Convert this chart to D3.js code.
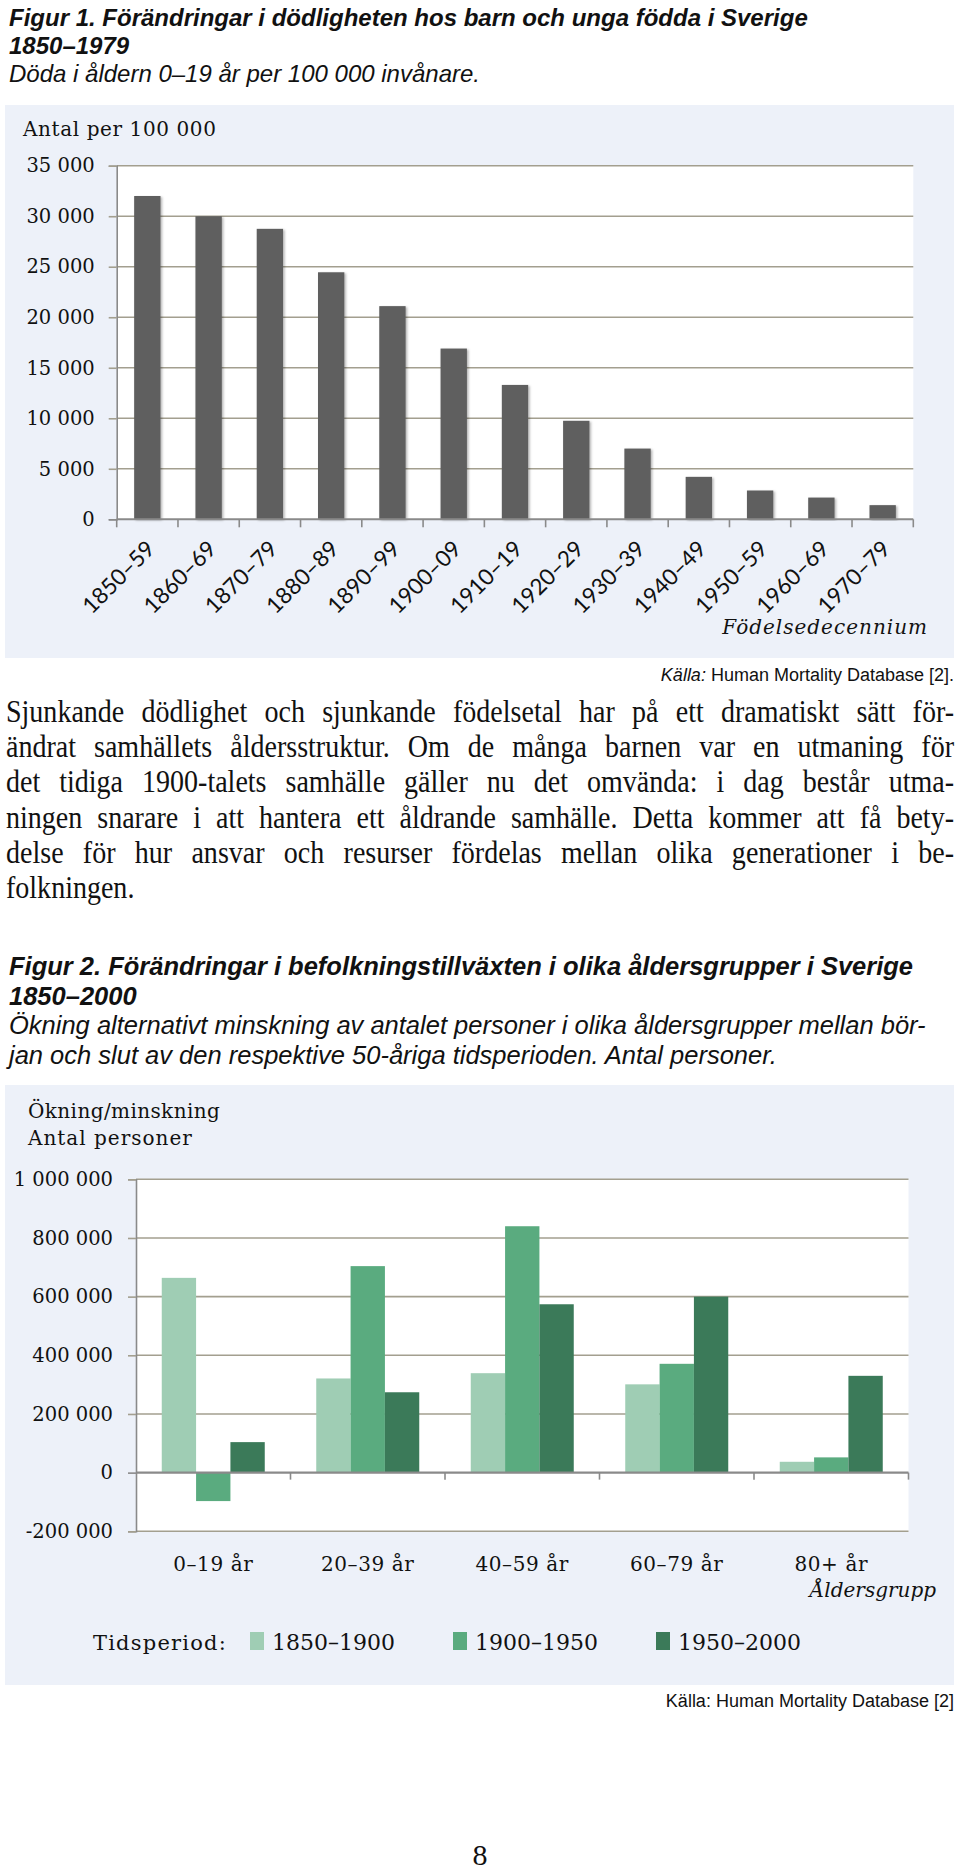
<!DOCTYPE html>
<html>
<head>
<meta charset="utf-8">
<script src="https://cdn.jsdelivr.net/npm/d3@7"></script>
<style>
  body { margin: 0; background: #fff; }
  #page { position: relative; width: 960px; height: 1869px; overflow: hidden; }
  #page svg { position: absolute; left: 0; top: 0; }
</style>
</head>
<body>
<div id="page">
  <svg id="chart" width="960" height="1869"></svg>
</div>
<script>
// figur 1 - deaths age 0-19 per 100 000, by birth decade
var decades = ['1850–59','1860–69','1870–79','1880–89','1890–99','1900–09','1910–19',
               '1920–29','1930–39','1940–49','1950–59','1960–69','1970–79'];
var deaths = [32000, 30000, 28750, 24450, 21100, 16900, 13300, 9750, 7000, 4200, 2850, 2150, 1400];
var deathTicks = [0, 5000, 10000, 15000, 20000, 25000, 30000, 35000];

// figur 2 - change in number of persons per age group
var ageGroups = ['0–19 år', '20–39 år', '40–59 år', '60–79 år', '80+ år'];
var periods = ['1850–1900', '1900–1950', '1950–2000'];
var change1850 = [664000, 321000, 339000, 301000, 37000];
var change1900 = [-97000, 704000, 840000, 371000, 52000];
var change1950 = [104000, 274000, 574000, 600000, 330000];
var changeTicks = [-200000, 0, 200000, 400000, 600000, 800000, 1000000];

var paraLines = [
  'Sjunkande dödlighet och sjunkande födelsetal har på ett dramatiskt sätt för-',
  'ändrat samhällets åldersstruktur. Om de många barnen var en utmaning för',
  'det tidiga 1900-talets samhälle gäller nu det omvända: i dag består utma-',
  'ningen snarare i att hantera ett åldrande samhälle. Detta kommer att få bety-',
  'delse för hur ansvar och resurser fördelas mellan olika generationer i be-',
  'folkningen.'
];

var fmt = d3.formatLocale({decimal: ',', thousands: ' ', grouping: [3], currency: ['', ''], minus: '-'}).format(',d');

var serif = '"DejaVu Serif", serif';
var sans = '"Liberation Sans", Arial, sans-serif';
var gridColor = '#a39f8f';
var axisColor = '#8a8a8a';

var svg = d3.select('#chart');

svg.append('defs').append('filter')
    .attr('id', 'shadow').attr('x', '-20%').attr('y', '-5%').attr('width', '140%').attr('height', '110%')
  .append('feDropShadow')
    .attr('dx', 1.5).attr('dy', 1).attr('stdDeviation', 1.2)
    .attr('flood-color', '#000').attr('flood-opacity', 0.3);

// titles
function title(lines, y0, step, size) {
  lines.forEach(function(l, i) {
    svg.append('text')
        .attr('x', 9).attr('y', y0 + i * step)
        .style('font-family', sans).style('font-size', size + 'px')
        .style('font-style', 'italic').style('font-weight', l.bold ? 'bold' : 'normal')
        .style('fill', '#111')
        .text(l.text);
  });
}
title([
  {text: 'Figur 1. Förändringar i dödligheten hos barn och unga födda i Sverige', bold: true},
  {text: '1850–1979', bold: true},
  {text: 'Döda i åldern 0–19 år per 100 000 invånare.', bold: false}
], 26, 28, 24);

title([
  {text: 'Figur 2. Förändringar i befolkningstillväxten i olika åldersgrupper i Sverige', bold: true},
  {text: '1850–2000', bold: true},
  {text: 'Ökning alternativt minskning av antalet personer i olika åldersgrupper mellan bör-', bold: false},
  {text: 'jan och slut av den respektive 50-åriga tidsperioden. Antal personer.', bold: false}
], 975, 29.7, 25.5);

// ---------- chart 1 ----------
var g1 = svg.append('g');
var left1 = 116.7, right1 = 913.3, top1 = 165.7, bottom1 = 519.3;

g1.append('rect').attr('x', 5).attr('y', 105).attr('width', 949).attr('height', 553).attr('fill', '#edf1f9');
g1.append('rect').attr('x', left1).attr('y', top1).attr('width', right1 - left1).attr('height', bottom1 - top1).attr('fill', '#fff');

var x1 = d3.scaleBand().domain(decades).range([left1, right1]);
var y1 = d3.scaleLinear().domain([0, 35000]).range([bottom1, top1]);

g1.selectAll('.grid').data(deathTicks.filter(function(d) { return d > 0; }))
  .enter().append('line')
    .attr('x1', left1).attr('x2', right1)
    .attr('y1', function(d) { return y1(d); }).attr('y2', function(d) { return y1(d); })
    .attr('stroke', gridColor).attr('stroke-width', 1.6);

var yAxis1 = d3.axisLeft(y1).tickValues(deathTicks).tickSize(8).tickPadding(14).tickFormat(fmt);
var ya1 = g1.append('g').attr('transform', 'translate(' + left1 + ',0)').call(yAxis1);
ya1.select('.domain').attr('stroke', axisColor).attr('stroke-width', 1.6);
ya1.selectAll('.tick line').attr('stroke', function(d) { return d === 0 ? axisColor : gridColor; }).attr('stroke-width', 1.6);
ya1.selectAll('.tick text').style('font-family', serif).style('font-size', '19.5px').style('fill', '#111');

var bw1 = x1.bandwidth() * 0.43;
g1.selectAll('.bar').data(deaths)
  .enter().append('rect')
    .attr('x', function(d, i) { return x1(decades[i]) + (x1.bandwidth() - bw1) / 2; })
    .attr('y', function(d) { return y1(d); })
    .attr('width', bw1)
    .attr('height', function(d) { return y1(0) - y1(d); })
    .attr('fill', '#5e5e5e')
    .attr('filter', 'url(#shadow)');

// x axis: line + ticks at band edges
g1.append('line').attr('x1', left1).attr('x2', right1).attr('y1', y1(0)).attr('y2', y1(0))
    .attr('stroke', axisColor).attr('stroke-width', 2);
var edges1 = decades.map(function(d) { return x1(d); }).concat([right1]);
g1.selectAll('.xtick').data(edges1)
  .enter().append('line')
    .attr('x1', function(d) { return d; }).attr('x2', function(d) { return d; })
    .attr('y1', y1(0)).attr('y2', y1(0) + 8)
    .attr('stroke', axisColor).attr('stroke-width', 1.6);

g1.selectAll('.xlab').data(decades)
  .enter().append('text')
    .attr('transform', function(d) {
      return 'translate(' + (x1(d) + x1.bandwidth() / 2 + 9) + ',' + (y1(0) + 31) + ') rotate(-45)';
    })
    .attr('text-anchor', 'end')
    .style('font-family', 'Lato, "Open Sans", sans-serif').style('font-size', '22.5px').style('fill', '#111')
    .text(function(d) { return d; });

g1.append('text').attr('x', 23).attr('y', 136)
    .style('font-family', serif).style('font-size', '20px').style('fill', '#111')
    .style('letter-spacing', '0.6px')
    .text('Antal per 100 000');

g1.append('text').attr('x', 928).attr('y', 634).attr('text-anchor', 'end')
    .style('font-family', serif).style('font-size', '20px').style('font-style', 'italic').style('fill', '#111')
    .style('letter-spacing', '1px')
    .text('Födelsedecennium');

var src1 = g1.append('text').attr('x', 954).attr('y', 681).attr('text-anchor', 'end')
    .style('font-family', sans).style('font-size', '18px').style('fill', '#111');
src1.append('tspan').style('font-style', 'italic').text('Källa:');
src1.append('tspan').text(' Human Mortality Database [2].');

// ---------- paragraph (condensed serif, justified by measuring each line) ----------
var squeeze = 0.89;
var paraW = 948 / squeeze;
svg.append('g').attr('transform', 'translate(6,0) scale(' + squeeze + ',1)')
  .selectAll('text').data(paraLines)
  .enter().append('text')
    .attr('x', 0)
    .attr('y', function(d, i) { return 722 + i * 35.2; })
    .style('font-family', '"Liberation Serif", "Times New Roman", serif')
    .style('font-size', '31.5px').style('fill', '#111')
    .text(function(d) { return d; })
    .each(function(d, i) {
      if (i === paraLines.length - 1) return;
      var len = this.getComputedTextLength();
      var gaps = d.split(' ').length - 1;
      if (len <= paraW) {
        d3.select(this).style('word-spacing', ((paraW - len) / gaps) + 'px');
      } else {
        d3.select(this).attr('textLength', paraW).attr('lengthAdjust', 'spacingAndGlyphs');
      }
    });

// ---------- chart 2 ----------
var g2 = svg.append('g');
var left2 = 136, right2 = 908.5, top2 = 1179.3, bottom2 = 1531.3;

g2.append('rect').attr('x', 5).attr('y', 1085).attr('width', 949).attr('height', 600).attr('fill', '#edf1f9');
g2.append('rect').attr('x', left2).attr('y', top2).attr('width', right2 - left2).attr('height', bottom2 - top2).attr('fill', '#fff');

var x2 = d3.scaleBand().domain(ageGroups).range([left2, right2]);
var x2in = d3.scaleBand().domain(periods).range([x2.bandwidth() / 6, x2.bandwidth() * 5 / 6]);
var y2 = d3.scaleLinear().domain([-200000, 1000000]).range([bottom2, top2]);
var color2 = d3.scaleOrdinal().domain(periods).range(['#9fcdb4', '#5aab7f', '#3b7a59']);

g2.selectAll('.grid').data(changeTicks.filter(function(d) { return d !== 0; }))
  .enter().append('line')
    .attr('x1', left2).attr('x2', right2)
    .attr('y1', function(d) { return y2(d); }).attr('y2', function(d) { return y2(d); })
    .attr('stroke', gridColor).attr('stroke-width', 1.6);

var yAxis2 = d3.axisLeft(y2).tickValues(changeTicks).tickSize(8).tickPadding(15).tickFormat(fmt);
var ya2 = g2.append('g').attr('transform', 'translate(' + left2 + ',0)').call(yAxis2);
ya2.select('.domain').attr('stroke', axisColor).attr('stroke-width', 1.6);
ya2.selectAll('.tick line').attr('stroke', function(d) { return d === 0 ? axisColor : gridColor; }).attr('stroke-width', 1.6);
ya2.selectAll('.tick text').style('font-family', serif).style('font-size', '19.5px').style('fill', '#111');

var series = [change1850, change1900, change1950];
var rows = [];
ageGroups.forEach(function(a, i) {
  periods.forEach(function(p, j) {
    rows.push({group: a, period: p, value: series[j][i]});
  });
});

g2.selectAll('.bar').data(rows)
  .enter().append('rect')
    .attr('x', function(d) { return x2(d.group) + x2in(d.period); })
    .attr('y', function(d) { return y2(Math.max(0, d.value)); })
    .attr('width', x2in.bandwidth())
    .attr('height', function(d) { return Math.abs(y2(d.value) - y2(0)); })
    .attr('fill', function(d) { return color2(d.period); });

g2.append('line').attr('x1', left2).attr('x2', right2).attr('y1', y2(0)).attr('y2', y2(0))
    .attr('stroke', axisColor).attr('stroke-width', 2.2);
var edges2 = ageGroups.map(function(d) { return x2(d); }).concat([right2]);
g2.selectAll('.xtick').data(edges2.slice(1))
  .enter().append('line')
    .attr('x1', function(d) { return d; }).attr('x2', function(d) { return d; })
    .attr('y1', y2(0)).attr('y2', y2(0) + 7)
    .attr('stroke', axisColor).attr('stroke-width', 1.6);

g2.selectAll('.xlab').data(ageGroups)
  .enter().append('text')
    .attr('x', function(d) { return x2(d) + x2.bandwidth() / 2; })
    .attr('y', 1571)
    .attr('text-anchor', 'middle')
    .style('font-family', serif).style('font-size', '20px').style('fill', '#111')
    .style('letter-spacing', '0.6px')
    .text(function(d) { return d; });

g2.append('text').attr('x', 28).attr('y', 1118)
    .style('font-family', serif).style('font-size', '20px').style('fill', '#111')
    .style('letter-spacing', '0.4px')
    .text('Ökning/minskning');
g2.append('text').attr('x', 28).attr('y', 1145)
    .style('font-family', serif).style('font-size', '20px').style('fill', '#111')
    .style('letter-spacing', '1px')
    .text('Antal personer');

g2.append('text').attr('x', 936).attr('y', 1597).attr('text-anchor', 'end')
    .style('font-family', serif).style('font-size', '20px').style('font-style', 'italic').style('fill', '#111')
    .text('Åldersgrupp');

// legend
var legX = [250, 453, 656];
var leg = g2.append('g');
leg.append('text').attr('x', 93).attr('y', 1650)
    .style('font-family', serif).style('font-size', '21px').style('fill', '#111')
    .style('letter-spacing', '1.2px')
    .text('Tidsperiod:');
var li = leg.selectAll('.li').data(periods).enter().append('g')
    .attr('transform', function(d, i) { return 'translate(' + legX[i] + ',1632)'; });
li.append('rect').attr('width', 14).attr('height', 18).attr('fill', function(d) { return color2(d); });
li.append('text').attr('x', 22).attr('y', 18)
    .style('font-family', serif).style('font-size', '22px').style('fill', '#111')
    .text(function(d) { return d; });

g2.append('text').attr('x', 954).attr('y', 1707).attr('text-anchor', 'end')
    .style('font-family', sans).style('font-size', '18px').style('fill', '#111')
    .text('Källa: Human Mortality Database [2]');

// page number
svg.append('text').attr('x', 480).attr('y', 1865).attr('text-anchor', 'middle')
    .style('font-family', '"Liberation Serif", serif').style('font-size', '30px').style('fill', '#111')
    .text('8');
</script>
</body>
</html>
